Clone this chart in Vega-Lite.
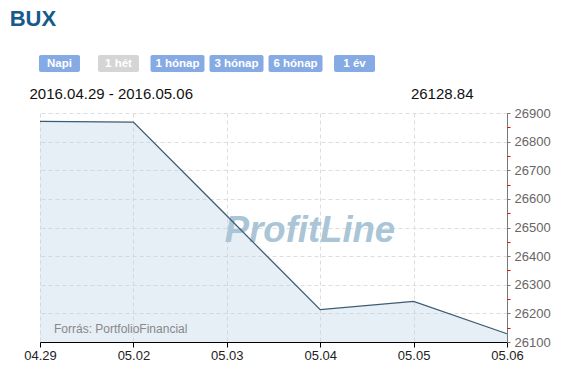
{
  "$schema": "https://vega.github.io/schema/vega-lite/v6.json",
  "background": "white",
  "padding": {"left": 9, "top": 8, "right": 0, "bottom": 0},
  "config": {"view": {"stroke": null}, "font": "Liberation Sans"},
  "title": {"text": "BUX", "anchor": "start", "fontSize": 22, "fontWeight": "bold", "font": "Liberation Sans", "color": "#16598b", "dx": -14, "offset": 7, "baseline": "alphabetic"},
  "spacing": 14,
  "datasets": {
    "buttons": [
      {"label": "Napi", "kind": "short", "state": "normal"},
      {"label": "1 hét", "kind": "short", "state": "selected"},
      {"label": "1 hónap", "kind": "long", "state": "normal"},
      {"label": "3 hónap", "kind": "long", "state": "normal"},
      {"label": "6 hónap", "kind": "long", "state": "normal"},
      {"label": "1 év", "kind": "short", "state": "normal"}
    ],
    "bux": [
      {"date": "04.29", "value": 26871},
      {"date": "05.02", "value": 26868},
      {"date": "05.03", "value": 26541},
      {"date": "05.04", "value": 26213},
      {"date": "05.05", "value": 26242},
      {"date": "05.06", "value": 26128.84}
    ],
    "notes": [
      {"text": "ProfitLine", "date": "05.03", "value": 26450, "kind": "watermark"},
      {"text": "Forrás: PortfolioFinancial", "date": "04.29", "value": 26100, "kind": "source"}
    ]
  },
  "vconcat": [
    {
      "width": 334,
      "height": 17,
      "data": {"name": "buttons"},
      "encoding": {
        "x": {"field": "label", "type": "nominal", "sort": null, "scale": {"type": "point", "padding": 0.33, "domain": ["Napi", "1 hét", "1 hónap", "3 hónap", "6 hónap", "1 év"]}, "axis": null},
        "color": {"field": "state", "type": "nominal", "scale": {"domain": ["normal", "selected"], "range": ["#86aae4", "#d5d5d5"]}, "legend": null}
      },
      "layer": [
        {
          "transform": [{"filter": "datum.kind == 'short'"}],
          "mark": {"type": "bar", "cornerRadius": 2, "width": 41}
        },
        {
          "transform": [{"filter": "datum.kind == 'long'"}],
          "mark": {"type": "bar", "cornerRadius": 2, "width": 54}
        },
        {
          "mark": {"type": "text", "fontSize": 11.5, "fontWeight": "bold", "font": "Liberation Sans", "color": "white"},
          "encoding": {"text": {"field": "label"}, "color": {"value": "white"}}
        }
      ]
    },
    {
      "width": 467,
      "height": 229,
      "layer": [
        {
          "data": {"name": "bux"},
          "mark": {"type": "area", "color": "#b8cfe6", "opacity": 0.35, "clip": true},
          "encoding": {
            "x": {
              "field": "date", "type": "ordinal", "sort": null,
              "scale": {"type": "point", "padding": 0},
              "axis": {
                "title": null, "labelAngle": 0, "labelFontSize": 13, "labelColor": "#222222", "labelPadding": 2,
                "domainColor": "#000000", "domainWidth": 1.2, "tickColor": "#000000", "tickSize": 5,
                "grid": true, "gridColor": "#dddddd", "gridDash": [4, 3]
              }
            },
            "y": {
              "field": "value", "type": "quantitative",
              "scale": {"domain": [26100, 26900], "nice": false, "zero": false},
              "axis": {
                "orient": "right", "values": [26100, 26200, 26300, 26400, 26500, 26600, 26700, 26800, 26900],
                "title": "26128.84", "titleAngle": 0, "titleAlign": "right", "titleBaseline": "alphabetic",
                "titleX": -34, "titleY": -15, "titleFontSize": 15, "titleFontWeight": "normal", "titleColor": "#111111",
                "labelFontSize": 13, "labelColor": "#666666", "labelPadding": 4, "format": "d",
                "domainColor": "#777777", "tickColor": "#777777", "tickSize": 3,
                "grid": true, "gridColor": "#dddddd", "gridDash": [4, 3]
              }
            }
          }
        },
        {
          "data": {"name": "notes"},
          "transform": [{"filter": "datum.kind == 'watermark'"}],
          "mark": {"type": "text", "align": "left", "baseline": "alphabetic", "dx": -2, "fontSize": 36.5, "fontWeight": "bold", "fontStyle": "italic", "font": "Liberation Sans", "color": "#a9c5d6"},
          "encoding": {
            "x": {"field": "date", "type": "ordinal", "axis": null},
            "y": {"field": "value", "type": "quantitative", "axis": null},
            "text": {"field": "text"}
          }
        },
        {
          "data": {"name": "notes"},
          "transform": [{"filter": "datum.kind == 'source'"}],
          "mark": {"type": "text", "align": "left", "baseline": "alphabetic", "dx": 14, "dy": -9, "fontSize": 12, "font": "Liberation Sans", "color": "#888888"},
          "encoding": {
            "x": {"field": "date", "type": "ordinal", "axis": null},
            "y": {"field": "value", "type": "quantitative", "axis": null},
            "text": {"field": "text"}
          }
        },
        {
          "data": {"name": "bux"},
          "mark": {"type": "line", "color": "#3d5b73", "strokeWidth": 1.3},
          "encoding": {
            "x": {
              "field": "date", "type": "ordinal", "sort": null,
              "axis": {
                "orient": "top", "labels": false, "ticks": false, "domain": false, "grid": false,
                "title": "2016.04.29 - 2016.05.06", "titleAngle": 0, "titleAlign": "left", "titleBaseline": "alphabetic",
                "titleX": -11, "titleY": -15, "titleFontSize": 15, "titleFontWeight": "normal", "titleColor": "#111111"
              }
            },
            "y": {
              "field": "value", "type": "quantitative",
              "axis": {
                "orient": "right", "values": [26150, 26250, 26350, 26450, 26550, 26650, 26750, 26850],
                "title": null, "labels": false, "domain": false, "grid": false,
                "tickColor": "#ff0000", "tickSize": 3
              }
            }
          }
        }
      ],
      "resolve": {"axis": {"x": "independent", "y": "independent"}}
    }
  ]
}
